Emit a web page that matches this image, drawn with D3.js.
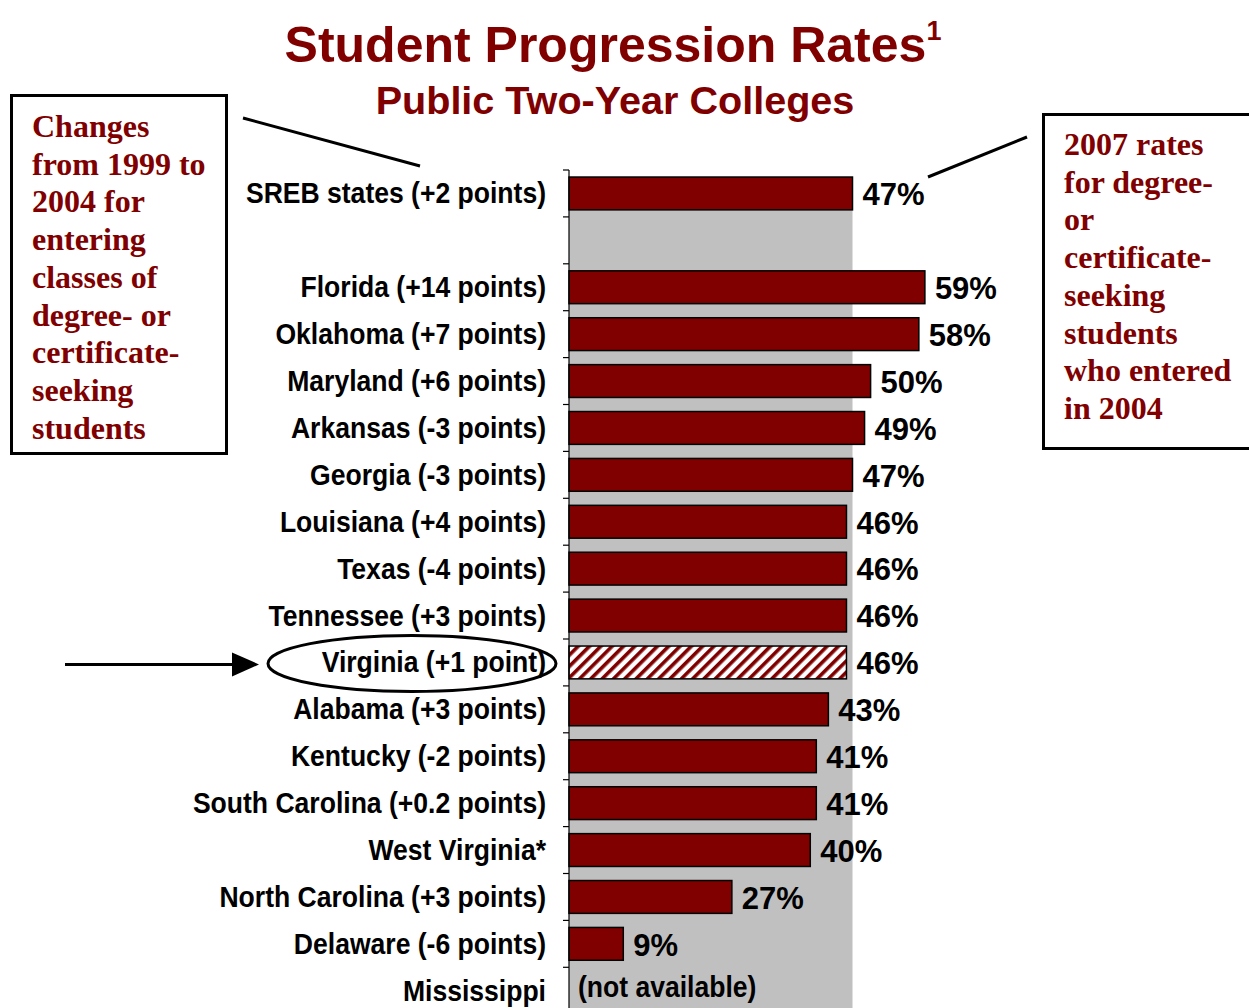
<!DOCTYPE html>
<html>
<head>
<meta charset="utf-8">
<script src="https://cdn.jsdelivr.net/npm/d3@7"></script>
<style>
  html, body { margin: 0; padding: 0; background: #fff; }
  svg { display: block; }
</style>
</head>
<body>
<svg id="chart" width="1249" height="1008"></svg>
<script>
// ---- data ----
const categories = [
  "SREB states (+2 points)", "", "Florida (+14 points)", "Oklahoma (+7 points)",
  "Maryland (+6 points)", "Arkansas (-3 points)", "Georgia (-3 points)",
  "Louisiana (+4 points)", "Texas (-4 points)", "Tennessee (+3 points)",
  "Virginia (+1 point)", "Alabama (+3 points)", "Kentucky (-2 points)",
  "South Carolina (+0.2 points)", "West Virginia*", "North Carolina (+3 points)",
  "Delaware (-6 points)", "Mississippi"
];
const values = [47, null, 59, 58, 50, 49, 47, 46, 46, 46, 46, 43, 41, 41, 40, 27, 9, null];
const highlighted = ["Virginia (+1 point)"];
const missingText = "(not available)";
const slotKeys = categories.map((c, i) => "slot" + i);
const referenceValue = 47;

const titleText = "Student Progression Rates";
const titleSup = "1";
const subtitleText = "Public Two-Year Colleges";
const leftNote = ["Changes", "from 1999 to", "2004 for", "entering", "classes of",
                  "degree- or", "certificate-", "seeking", "students"];
const rightNote = ["2007 rates", "for degree-", "or", "certificate-", "seeking",
                   "students", "who entered", "in 2004"];

// ---- setup ----
const maroon = "#800000";
const svg = d3.select("#chart");
const defs = svg.append("defs");
const pat = defs.append("pattern")
  .attr("id", "hatch").attr("patternUnits", "userSpaceOnUse")
  .attr("width", 8).attr("height", 8)
  .attr("patternTransform", "rotate(45)");
pat.append("rect").attr("width", 8).attr("height", 8).attr("fill", "#fff");
pat.append("rect").attr("width", 3.6).attr("height", 8).attr("fill", maroon);

const x = d3.scaleLinear().domain([0, 47]).range([569, 852.5]);
const y = d3.scaleBand().domain(slotKeys).range([170, 170 + 18 * 46.9])
  .paddingInner(0.3).paddingOuter(0.15);
const step = y.step();

// grey reference band
svg.append("rect")
  .attr("x", x(0)).attr("y", y(slotKeys[0]))
  .attr("width", x(referenceValue) - x(0))
  .attr("height", 1008 - y(slotKeys[0]))
  .attr("fill", "#c0c0c0");

// bars
const rows = categories.map((c, i) => ({ label: c, value: values[i], key: slotKeys[i] }));
svg.append("g").selectAll("rect")
  .data(rows.filter(d => d.value != null))
  .join("rect")
  .attr("x", x(0))
  .attr("y", d => y(d.key))
  .attr("width", d => x(d.value) - x(0))
  .attr("height", y.bandwidth())
  .attr("fill", d => highlighted.includes(d.label) ? "url(#hatch)" : maroon)
  .attr("stroke", "#000").attr("stroke-width", 1.5);

// axis line + ticks at slot boundaries
const axisG = svg.append("g");
axisG.append("line")
  .attr("x1", x(0)).attr("x2", x(0))
  .attr("y1", y.range()[0]).attr("y2", 1008)
  .attr("stroke", "#000").attr("stroke-width", 1.2);
axisG.selectAll("line.tick")
  .data(d3.range(0, categories.length + 1))
  .join("line").attr("class", "tick")
  .attr("x1", x(0) - 6).attr("x2", x(0))
  .attr("y1", i => y.range()[0] + i * step)
  .attr("y2", i => y.range()[0] + i * step)
  .attr("stroke", "#000").attr("stroke-width", 1.2);

// category labels
const labelFont = "'Liberation Sans', Arial, sans-serif";
svg.append("g").selectAll("text")
  .data(rows.filter(d => d.label !== ""))
  .join("text")
  .attr("transform", d => `translate(546,${y(d.key) + y.bandwidth() / 2}) scale(0.9,1)`)
  .attr("dy", "0.34em")
  .attr("text-anchor", "end")
  .attr("font-family", labelFont).attr("font-weight", "bold").attr("font-size", 29.5)
  .attr("fill", "#000")
  .text(d => d.label);

// value labels
svg.append("g").selectAll("text")
  .data(rows.filter(d => d.value != null))
  .join("text")
  .attr("x", d => x(d.value) + 10)
  .attr("y", d => y(d.key) + y.bandwidth() / 2)
  .attr("dy", "0.38em")
  .attr("font-family", labelFont).attr("font-weight", "bold").attr("font-size", 31)
  .attr("fill", "#000")
  .text(d => d.value + "%");

// not available
rows.filter(d => d.label !== "" && d.value == null).forEach(d => {
  svg.append("text")
    .attr("transform", `translate(578,${y(d.key) + y.bandwidth() / 2 - 4}) scale(0.9,1)`)
    .attr("dy", "0.34em")
    .attr("font-family", labelFont).attr("font-weight", "bold").attr("font-size", 29.5)
    .attr("fill", "#000")
    .text(missingText);
});

// titles
const t = svg.append("text")
  .attr("x", 613).attr("y", 62).attr("text-anchor", "middle")
  .attr("font-family", labelFont).attr("font-weight", "bold").attr("font-size", 50)
  .attr("fill", maroon);
t.append("tspan").text(titleText);
t.append("tspan").attr("font-size", 27).attr("dy", -22).text(titleSup);

svg.append("text")
  .attr("x", 615).attr("y", 114).attr("text-anchor", "middle")
  .attr("font-family", labelFont).attr("font-weight", "bold").attr("font-size", 39.6)
  .attr("fill", maroon)
  .text(subtitleText);

// note boxes
const serif = "'Liberation Serif', 'Times New Roman', serif";
svg.append("rect").attr("x", 11.5).attr("y", 95.5).attr("width", 215).attr("height", 358)
  .attr("fill", "none").attr("stroke", "#000").attr("stroke-width", 3);
svg.append("g").selectAll("text").data(leftNote).join("text")
  .attr("x", 32).attr("y", (d, i) => 137 + i * 37.7)
  .attr("font-family", serif).attr("font-weight", "bold").attr("font-size", 32)
  .attr("fill", maroon).text(d => d);

svg.append("rect").attr("x", 1043.5).attr("y", 114.5).attr("width", 230).attr("height", 334)
  .attr("fill", "none").attr("stroke", "#000").attr("stroke-width", 3);
svg.append("g").selectAll("text").data(rightNote).join("text")
  .attr("x", 1064).attr("y", (d, i) => 155 + i * 37.7)
  .attr("font-family", serif).attr("font-weight", "bold").attr("font-size", 32)
  .attr("fill", maroon).text(d => d);

// leader lines
svg.append("line").attr("x1", 243).attr("y1", 118).attr("x2", 420).attr("y2", 166)
  .attr("stroke", "#000").attr("stroke-width", 3);
svg.append("line").attr("x1", 928).attr("y1", 177).attr("x2", 1027).attr("y2", 137)
  .attr("stroke", "#000").attr("stroke-width", 3);

// highlight ellipse and arrow
const vy = y("slot10") + y.bandwidth() / 2;
svg.append("ellipse").attr("cx", 412).attr("cy", vy + 1).attr("rx", 144).attr("ry", 28)
  .attr("fill", "none").attr("stroke", "#000").attr("stroke-width", 3);
svg.append("line").attr("x1", 65).attr("y1", vy + 2).attr("x2", 234).attr("y2", vy + 2)
  .attr("stroke", "#000").attr("stroke-width", 3);
svg.append("path")
  .attr("d", `M232,${vy + 2 - 12} L259,${vy + 2} L232,${vy + 2 + 12} Z`)
  .attr("fill", "#000");
</script>
</body>
</html>
